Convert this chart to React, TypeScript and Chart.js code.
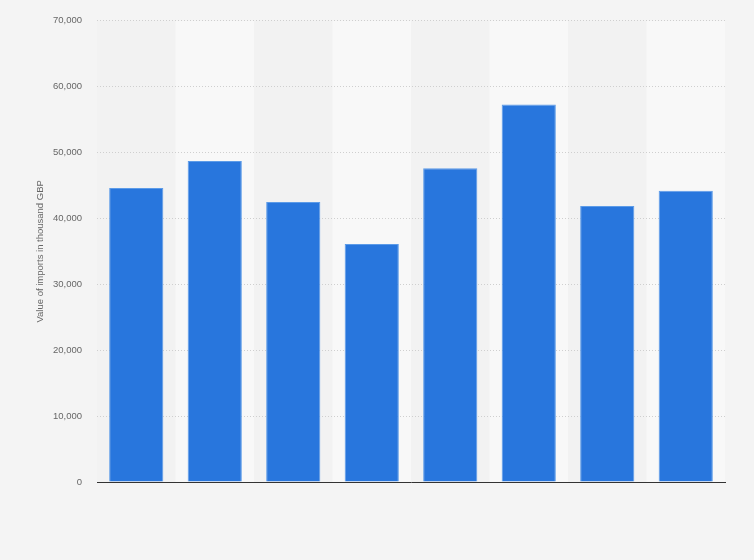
import React, { useEffect, useRef } from "react";
import { Chart, registerables } from "chart.js";

Chart.register(...registerables);

const categories = ["1", "2", "3", "4", "5", "6", "7", "8"];
const importValues = [44600, 48700, 42500, 36100, 47600, 57300, 41900, 44200];
const yTicks = [0, 10000, 20000, 30000, 40000, 50000, 60000, 70000];
const yTitle = "Value of imports in thousand GBP";

const bandPlugin = {
  id: "bands",
  beforeDraw(chart: any) {
    const { ctx, chartArea, scales } = chart;
    const x = scales.x;
    const n = categories.length;
    const w = (chartArea.right - chartArea.left) / n;
    ctx.save();
    for (let i = 0; i < n; i++) {
      const cx = x.getPixelForValue(i);
      ctx.fillStyle = i % 2 === 0 ? "#f2f2f2" : "#f8f8f8";
      ctx.fillRect(cx - w / 2, chartArea.top, w, chartArea.bottom - chartArea.top);
    }
    ctx.restore();
  },
};

export default function App() {
  const ref = useRef<HTMLCanvasElement>(null);
  useEffect(() => {
    const chart = new Chart(ref.current!, {
      type: "bar",
      data: {
        labels: categories,
        datasets: [
          {
            data: importValues,
            backgroundColor: "#2876dd",
            borderColor: "#5c9be8",
            borderWidth: 1,
            barPercentage: 0.69,
            categoryPercentage: 1,
          },
        ],
      },
      plugins: [bandPlugin],
      options: {
        animation: false,
        responsive: false,
        maintainAspectRatio: false,
        layout: { padding: { left: 0, top: 20, right: 29, bottom: 78 } },
        plugins: { legend: { display: false }, tooltip: { enabled: false } },
        scales: {
          x: {
            grid: { display: false, drawTicks: false },
            border: { display: true, color: "#333333", width: 1 },
            ticks: { display: false },
            afterFit: (s: any) => {
              s.height = 0;
            },
          },
          y: {
            min: 0,
            max: 70000,
            afterBuildTicks: (s: any) => {
              s.ticks = yTicks.map((v) => ({ value: v }));
            },
            grid: {
              color: (c: any) => (c.tick && c.tick.value === 0 ? "rgba(0,0,0,0)" : "#cfcfcf"),
              drawTicks: false,
              lineWidth: 1,
            },
            border: { display: false, dash: [1, 2] },
            ticks: {
              padding: 15,
              color: "#666666",
              font: { family: "Liberation Sans, Arial", size: 9.5 },
              callback: (v: any) => Number(v).toLocaleString("en-US"),
            },
            title: {
              display: true,
              text: yTitle,
              color: "#666666",
              font: { family: "Liberation Sans, Arial", size: 9.5 },
              padding: { top: 35, bottom: 0 },
            },
            afterFit: (s: any) => {
              s.width = 97;
            },
          },
        },
      },
    });
    // dotted gridlines
    (chart.options.scales as any).y.grid.borderDash = [1, 2];
    (chart.options.scales as any).y.border.dash = [1, 2];
    chart.update();
    return () => chart.destroy();
  }, []);
  return (
    <div
      style={{
        position: "fixed",
        left: 0,
        top: 0,
        width: 754,
        height: 560,
        background: "#f4f4f4",
      }}
    >
      <canvas ref={ref} width={754} height={560} style={{ width: 754, height: 560 }} />
    </div>
  );
}
